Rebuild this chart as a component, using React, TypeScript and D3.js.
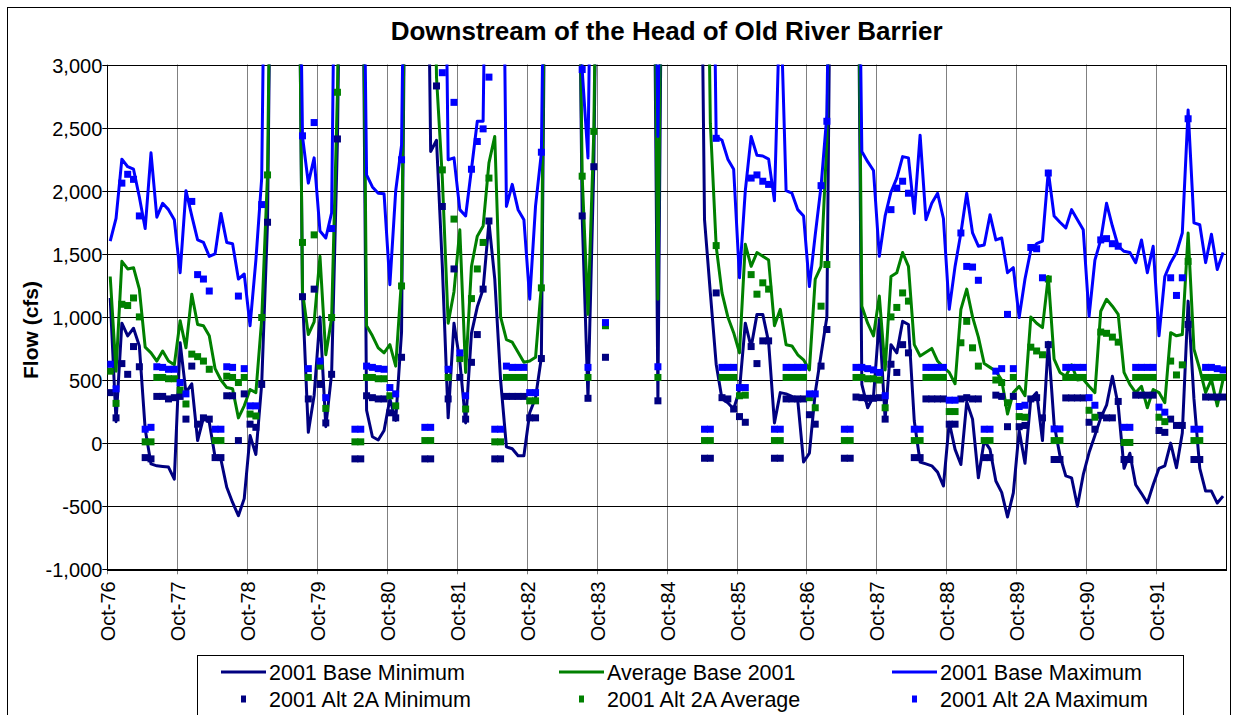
import React from "react";
import * as d3 from "d3";

// flows above the 3,000 cfs axis limit (drawn off the top of the plot)
const H = 6000;

const monthNames = ["Oct", "Nov", "Dec", "Jan", "Feb", "Mar", "Apr", "May", "Jun", "Jul", "Aug", "Sep"];
const waterYears = [77, 78, 79, 80, 81, 82, 83, 84, 85, 86, 87, 88, 89, 90, 91, 92];
const categories = waterYears.flatMap((wy) =>
  monthNames.map((m, i) => `${m}-${i < 3 ? wy - 1 : wy}`)
);

const tickLabels = [
  "Oct-76", "Oct-77", "Oct-78", "Oct-79", "Oct-80", "Oct-81", "Oct-82", "Oct-83",
  "Oct-84", "Oct-85", "Oct-86", "Oct-87", "Oct-88", "Oct-89", "Oct-90", "Oct-91",
];
const yTicks = [-1000, -500, 0, 500, 1000, 1500, 2000, 2500, 3000];

// one row per water year (Oct..Sep)
const baseMin = [
  1150, 170, 950, 850, 910, 770, 110, -165, -180, -185, -190, -285,
  795, 400, 470, 20, 200, 165, -110, -130, -350, -470, -575, -440,
  60, -90, 470, 1750, H, H, H, H, H, 1170, 85, 380,
  1000, 130, 550, 2400, H, H, H, H, 260, 50, 25, 100,
  350, 180, 880, H, H, H, H, 2310, 2400, 1400, 200, 950,
  650, 160, 870, 1080, 1220, 1750, 1300, 500, -30, -45, -100, -100,
  240, 360, 680, H, H, H, H, H, H, 1800, 355, 2200,
  H, H, H, H, H, H, H, H, H, H, 335, H,
  H, H, H, H, H, H, 1770, 1190, 625, 350, 320, 270,
  420, 950, 760, 1020, 1020, 800, 160, 400, 390, 370, 340, -150,
  -80, 400, 700, 1000, H, H, H, H, H, 465, 280, 370,
  980, 190, 780, 715, 965, 940, 175, -150, -165, -180, -230, -340,
  165, -50, -170, 325, 190, -275, 20, -50, -300, -390, -585, -395,
  100, -160, 350, 400, 20, 800, 150, -100, -260, -275, -500, -250,
  -75, 60, 200, 300, 530, 300, -200, -80, -330, -400, -475, -330,
  -200, -180, 0, -195, 80, 1125, 350, -200, -380, -380, -475, -420,
];

const baseAvg = [
  1320, 570, 1440, 1380, 1390, 1220, 760, 715, 650, 730, 650, 620,
  970, 755, 1180, 940, 930, 850, 590, 500, 440, 430, 200, 295,
  425, 400, 980, 2130, H, H, H, H, H, 1200, 860, 960,
  1480, 700, 990, 2780, H, H, H, H, 930, 850, 755, 715,
  780, 610, 1300, H, H, H, H, H, 2900, 2100, 950, 1200,
  1690, 560, 1400, 1640, 1720, 2220, 2430, 1000, 820, 800, 720, 640,
  650, 680, 1245, H, H, H, H, H, H, 2115, 1020, 2470,
  H, H, H, H, H, H, H, H, H, H, 1140, H,
  H, H, H, H, H, H, H, 2535, 1560, 1190, 1000, 875,
  715, 1575, 1400, 1510, 1480, 1450, 930, 1060, 780, 770, 700, 660,
  580, 1300, 1400, 2400, H, H, H, H, H, 1085, 950, 850,
  1165, 580, 1320, 1350, 1510, 1400, 780, 690, 720, 750, 650, 600,
  560, 470, 1060, 1220, 1000, 840, 630, 600, 570, 500, 230, 400,
  450, 375, 1000, 950, 915, 1320, 665, 560, 530, 620, 500, 505,
  450, 400, 1045, 1140, 1085, 1020, 560, 465, 400, 450, 280, 425,
  400, 320, 875, 850, 860, 1665, 745, 585, 400, 505, 295, 505,
];

const baseMax = [
  1600, 1780, 2250, 2190, 2170, 1950, 1700, 2300, 1790, 1900, 1850, 1770,
  1350, 2000, 1800, 1610, 1590, 1480, 1500, 1820, 1590, 1580, 1300, 1340,
  930, 1450, 2100, H, H, H, H, H, H, 2430, 2060, 2260,
  1680, 1625, 1825, H, H, H, H, H, 2125, 2030, 1980, 1975,
  1255, 2000, 2360, H, H, H, H, H, H, H, 2245, 2260,
  1850, 1800, 2170, 2550, 2550, H, H, H, 1875, 2050, 1850, 1770,
  1140, 1880, 2300, H, H, H, H, H, H, 2960, 2260, H,
  H, H, H, H, H, H, H, H, H, H, 2430, H,
  H, H, H, H, H, H, H, H, 2430, 2400, 2250, 2170,
  1310, 2000, 2430, 2280, 2275, 2250, 1920, 3600, 2000, 1980, 1850, 1800,
  1240, 1650, 2035, 2600, H, H, H, H, H, 2310, 2230, 2160,
  1480, 1800, 1990, 2100, 2270, 2260, 1820, 2440, 1770, 1900, 1980, 1780,
  1060, 1400, 1665, 1980, 1665, 1560, 1570, 1810, 1610, 1625, 1350, 1390,
  995, 1300, 1530, 1580, 1600, 2155, 1800, 1750, 1705, 1850, 1770, 1690,
  1005, 1450, 1610, 1900, 1720, 1560, 1520, 1510, 1430, 1610, 1350, 1560,
  850, 1320, 1430, 1510, 1665, 2640, 1745, 1730, 1430, 1655, 1375, 1510,
];

const altMin = [
  400, 200, 630, 545, 765, 605, -115, -125, 370, 370, 350, 360,
  370, 190, 610, 150, 200, 190, -115, -115, 375, 375, 20, 390,
  150, 125, 465, 1750, H, H, H, H, H, 1160, 350, 1220,
  465, 160, 545, 2410, H, H, -125, -125, 375, 360, 350, 350,
  240, 200, 680, H, H, H, -125, -125, 2830, 1875, 350, 1380,
  520, 190, 640, 860, 1220, 1760, -125, -125, 370, 370, 370, 370,
  200, 200, 670, H, H, H, H, H, H, 1800, 355, 2190,
  H, 680, H, H, H, H, H, H, H, H, 335, H,
  H, H, H, H, H, H, -120, -120, 1190, 360, 350, 270,
  210, 165, 765, 630, 810, 810, -120, -120, 350, 350, 350, 350,
  225, 150, 610, 900, H, H, -120, -120, 365, 360, 355, 355,
  360, 190, 625, 560, 780, 715, -115, -115, 350, 350, 350, 350,
  150, 150, 350, 360, 350, 350, -115, -115, 380, 370, 130, 370,
  130, 140, 350, 360, 200, 780, -130, -130, 358, 358, 358, 358,
  165, 110, 220, 200, 200, 330, -130, -130, 380, 380, 380, 380,
  100, 85, 190, 140, 140, 940, -130, -130, 365, 365, 365, 365,
];

const altAvg = [
  570, 315, 1100, 1090, 1150, 1000, 10, 10, 520, 520, 510, 510,
  420, 310, 705, 685, 650, 585, 20, 20, 530, 520, 480, 520,
  230, 215, 995, 2125, H, H, H, H, H, 1590, 520, 1650,
  610, 275, 995, 2780, H, H, 10, 10, 520, 520, 510, 510,
  375, 295, 1245, H, H, H, 20, 20, H, 2165, 520, 1775,
  670, 270, 1145, 1380, 1590, 2100, 10, 10, 520, 520, 520, 520,
  335, 335, 1230, H, H, H, H, H, H, 2115, 520, 2470,
  H, 930, H, H, H, H, H, H, H, H, 520, H,
  H, H, H, H, H, H, 20, 20, 1565, 520, 520, 520,
  375, 380, 1335, 1180, 1270, 1220, 20, 20, 520, 520, 520, 520,
  360, 280, 1085, 1415, H, H, 20, 20, 520, 520, 510, 510,
  500, 280, 1000, 1075, 1190, 1125, 20, 20, 520, 520, 520, 520,
  250, 250, 795, 965, 755, 610, 20, 20, 500, 480, 320, 520,
  210, 205, 760, 730, 700, 1300, 20, 20, 520, 520, 520, 520,
  260, 205, 880, 870, 840, 800, 5, 5, 520, 520, 520, 520,
  205, 170, 650, 540, 620, 1440, 20, 20, 520, 520, 520, 520,
];

const altMax = [
  625, 430, 2060, 2130, 2090, 1800, 110, 125, 605, 600, 585, 585,
  480, 390, 1915, 1335, 1300, 1205, 110, 110, 605, 600, 1165, 590,
  295, 295, 1890, H, H, H, H, H, H, 2435, 590, 2540,
  650, 360, 1700, H, H, H, 110, 110, 610, 600, 590, 585,
  440, 390, 2245, H, H, H, 125, 125, H, 2935, 585, 2700,
  715, 375, 2170, 2390, 2490, 2900, 110, 110, 610, 600, 600, 600,
  400, 400, 2305, H, H, H, H, H, H, 2960, 600, H,
  H, 955, H, H, H, H, H, H, H, H, 605, H,
  H, H, H, H, H, H, 110, 110, 2415, 600, 600, 600,
  440, 440, 2100, 2125, 2075, 2050, 110, 110, 600, 600, 600, 600,
  390, 390, 2040, 2550, H, H, 110, 110, 600, 600, 590, 580,
  560, 375, 1850, 2020, 2075, 1980, 110, 110, 600, 600, 600, 600,
  340, 340, 1665, 1400, 1395, 1290, 110, 110, 570, 590, 1020, 590,
  290, 300, 1550, 1540, 1310, 2140, 112, 112, 600, 600, 600, 600,
  360, 300, 1610, 1620, 1580, 1560, 125, 125, 600, 600, 600, 600,
  285, 245, 1310, 1170, 1310, 2570, 110, 110, 600, 600, 590, 580,
];

const lineSeries = [
  { name: "2001 Base Minimum", values: baseMin, color: "#000080" },
  { name: "Average Base 2001", values: baseAvg, color: "#008000" },
  { name: "2001 Base Maximum", values: baseMax, color: "#0000FF" },
];
const markerSeries = [
  { name: "2001 Alt 2A Minimum", values: altMin, color: "#000080" },
  { name: "2001 Alt 2A Average", values: altAvg, color: "#008000" },
  { name: "2001 Alt 2A Maximum", values: altMax, color: "#0000FF" },
];

const W = 1235;
const HGT = 715;
const plot = { left: 107.3, right: 1226, top: 64.5, bottom: 569.3 };
const FONT = "'Liberation Sans', Arial, Helvetica, sans-serif";

export default function App() {
  const x = d3
    .scaleBand<string>()
    .domain(categories)
    .range([plot.left, plot.right])
    .paddingInner(0)
    .paddingOuter(0);
  const bw = x.bandwidth();
  const cx = (i: number) => (x(categories[i]) as number) + bw / 2;
  const y = d3.scaleLinear().domain([-1000, 3000]).range([plot.bottom, plot.top]);
  const fmt = (v: number) => d3.format(",")(v).replace("\u2212", "-");

  const line = d3
    .line<number>()
    .x((_, i) => cx(i))
    .y((d) => y(d));

  const ms = 7;
  const legendCols = [221, 559, 892];

  return (
    <svg
      width={W}
      height={HGT}
      style={{ position: "absolute", left: 0, top: 0, background: "#fff" }}
      fontFamily={FONT}
    >
      <defs>
        <clipPath id="plotClip">
          <rect x={plot.left} y={plot.top} width={plot.right - plot.left} height={plot.bottom - plot.top} />
        </clipPath>
      </defs>
      <rect x={0} y={0} width={W} height={HGT} fill="#fff" />
      <rect x={7.5} y={7.5} width={1223} height={730} fill="none" stroke="#000" strokeWidth={1} />

      <text x={(plot.left + plot.right) / 2} y={40} textAnchor="middle" fontSize={26} fontWeight="bold">
        Downstream of the Head of Old River Barrier
      </text>

      {/* vertical gridlines and x ticks */}
      {tickLabels.map((lab, k) => {
        const gx = Math.round(x(categories[k * 12]) as number) + 0.5;
        return (
          <g key={lab}>
            <line x1={gx} x2={gx} y1={plot.top} y2={plot.bottom + 5} stroke="#808080" strokeWidth={1} />
            <text
              transform={`translate(${gx},${plot.bottom + 12}) rotate(-90)`}
              textAnchor="end"
              dy="0.35em"
              fontSize={20}
            >
              {lab}
            </text>
          </g>
        );
      })}

      {/* horizontal gridlines and y ticks */}
      {yTicks.map((t) => {
        const gy = Math.round(y(t)) + 0.5;
        return (
          <g key={t}>
            <line x1={plot.left - 5} x2={plot.right} y1={gy} y2={gy} stroke="#000" strokeWidth={1} />
            <text x={plot.left - 5} y={gy} dy="0.35em" textAnchor="end" fontSize={20}>
              {fmt(t)}
            </text>
          </g>
        );
      })}

      <rect
        x={Math.round(plot.left) + 0.5}
        y={Math.round(plot.top) + 0.5}
        width={Math.round(plot.right - plot.left)}
        height={Math.round(plot.bottom - plot.top)}
        fill="none"
        stroke="#000"
        strokeWidth={1}
      />

      <text
        transform="translate(31,330) rotate(-90)"
        textAnchor="middle"
        dy="0.35em"
        fontSize={21}
        fontWeight="bold"
      >
        Flow (cfs)
      </text>

      <g clipPath="url(#plotClip)">
        {lineSeries.map((s) => (
          <path
            key={s.name}
            d={line(s.values) || ""}
            fill="none"
            stroke={s.color}
            strokeWidth={3}
            strokeLinejoin="round"
          />
        ))}
        {markerSeries.map((s) => (
          <g key={s.name} fill={s.color}>
            {s.values.map((v, i) =>
              v >= H ? null : (
                <rect key={i} x={cx(i) - ms / 2} y={y(v) - ms / 2} width={ms} height={ms} />
              )
            )}
          </g>
        ))}
      </g>

      {/* legend */}
      <rect x={197.5} y={655.5} width={986} height={80} fill="#fff" stroke="#000" strokeWidth={1} />
      {lineSeries.map((s, k) => (
        <g key={s.name}>
          <line x1={legendCols[k]} x2={legendCols[k] + 45} y1={672} y2={672} stroke={s.color} strokeWidth={3} />
          <text x={legendCols[k] + 48} y={672} dy="0.35em" fontSize={21.5}>
            {s.name}
          </text>
        </g>
      ))}
      {markerSeries.map((s, k) => (
        <g key={s.name}>
          <rect x={legendCols[k] + 22.5 - 2.5} y={699 - 3.5} width={5} height={7} fill={s.color} />
          <text x={legendCols[k] + 48} y={699} dy="0.35em" fontSize={21.5}>
            {s.name}
          </text>
        </g>
      ))}
    </svg>
  );
}
